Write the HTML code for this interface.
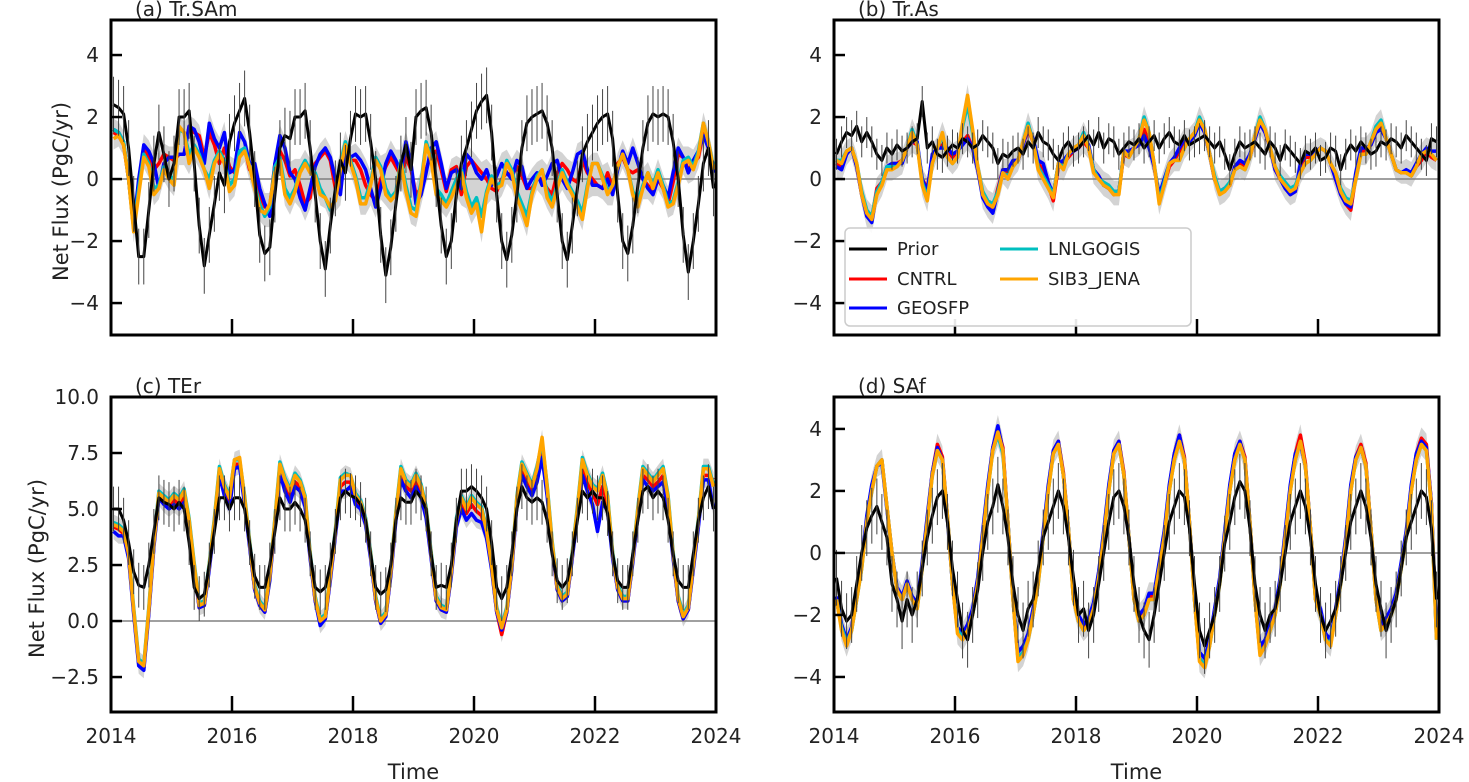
<!DOCTYPE html>
<html><head><meta charset="utf-8"><style>
html,body{margin:0;padding:0;background:#fff;}
svg{display:block;font-family:"DejaVu Sans","Liberation Sans",sans-serif;}
</style></head><body>
<svg id="fig" width="1469" height="782" viewBox="0 0 1469 782"></svg>
<script>
const aPrior=[2.4,2.3,2.1,1.0,-0.8,-2.5,-2.5,-1.0,0.5,1.5,0.8,0.0, 0.5,2.0,2.0,2.2,0.5,-1.5,-2.8,-1.8,-0.8,0.2,-0.2,1.2, 1.8,2.2,2.6,1.5,0.0,-1.8,-2.4,-2.2,-0.5,1.0,1.4,1.3, 2.0,2.0,2.2,1.0,-0.5,-2.0,-2.9,-1.5,-0.3,0.6,0.2,1.3, 2.1,2.0,2.1,1.2,0.0,-1.8,-3.1,-2.2,-0.8,0.5,1.1,0.3, 2.0,2.2,2.3,1.5,0.0,-1.5,-2.5,-2.0,-0.5,0.5,1.0,1.6, 2.2,2.5,2.7,1.5,-0.5,-2.0,-2.6,-1.8,-0.5,1.0,1.8,2.0, 2.1,2.2,1.8,1.0,-0.5,-2.0,-2.6,-1.5,-0.3,0.8,1.2,1.5, 1.8,2.0,2.1,1.3,-0.5,-2.0,-2.4,-1.5,-0.2,1.0,1.8,2.1, 2.0,2.1,2.0,1.2,0.0,-1.8,-3.0,-2.0,-0.8,0.5,1.0,-0.3];
const aCNTRL=[1.5,1.4,1.1,0.0,-1.6,-0.1,1.0,0.7,0.3,0.5,0.8,0.7, 0.6,0.8,0.8,1.7,1.5,1.4,0.7,1.5,1.1,0.5,1.0,0.4, 0.2,0.8,1.0,0.3,0.2,-0.5,-0.9,-0.9,0.5,0.9,0.6,0.1, 0.3,-0.2,-0.8,-0.6,0.5,0.7,0.9,0.6,-0.3,-0.1,0.7,0.6, 0.6,0.3,-0.2,-0.5,-0.7,0.0,0.4,0.7,0.4,0.1,0.7,0.3, -0.5,-0.3,0.3,0.8,0.9,0.3,-0.4,0.3,0.4,-0.5,0.4,0.6, 0.4,0.2,0.0,-0.3,-0.4,0.0,0.2,0.1,0.4,0.1,-0.3,-0.3, 0.0,0.0,-0.3,-0.5,0.2,0.5,0.3,0.0,-0.1,0.6,0.2,0.0, -0.2,-0.3,0.2,-0.3,0.5,0.7,0.3,0.2,0.3,0.0,-0.2,-0.4, 0.0,-0.3,-0.8,-0.1,0.8,0.7,0.3,0.5,0.7,1.5,1.0,0.3];
const aGEOSFP=[1.6,1.5,1.2,0.0,-1.5,0.0,1.1,0.9,0.5,-0.3,0.5,0.7, 0.7,0.8,0.8,1.7,1.6,1.2,0.5,1.8,1.3,1.0,1.5,0.2, 0.3,1.5,1.2,0.5,0.5,-0.3,-0.8,-1.2,0.5,1.4,1.0,0.2, 0.0,-0.6,-1.0,-0.3,0.4,0.8,1.0,0.7,0.0,-0.5,1.0,0.7, 0.8,0.6,0.3,-0.3,-0.9,-0.3,0.5,0.9,0.6,0.2,1.2,0.5, -0.8,-0.5,0.2,1.0,1.2,0.5,-0.3,0.2,0.3,-0.3,0.8,0.6, 0.2,0.0,0.3,-0.2,0.1,0.5,0.2,0.0,0.6,0.4,-0.3,0.0, 0.2,-0.2,0.1,0.5,0.6,0.0,-0.3,0.2,0.8,0.9,0.3,-0.2, -0.2,-0.3,0.0,-0.5,0.3,0.9,0.5,1.0,0.5,0.0,-0.3,-0.5, 0.0,-0.2,-0.6,0.2,1.0,0.7,0.2,0.6,0.9,1.4,1.0,0.2];
const aLNLGOGIS=[1.6,1.5,1.2,0.0,-1.6,-0.3,0.8,0.5,-0.3,-0.2,0.4,0.1, 0.0,1.6,1.5,0.8,1.1,0.8,0.3,0.0,0.6,0.9,0.6,-0.2, 0.0,0.9,1.0,0.4,-0.2,-0.8,-1.2,-0.9,0.4,0.7,-0.3,-0.6, -0.3,0.3,0.6,0.3,0.2,-0.3,-0.6,-1.0,-0.6,0.5,1.2,0.6, 0.1,-0.6,-0.6,-0.1,0.7,0.4,-0.3,-0.6,-0.4,0.6,-0.2,-0.9, -1.0,-0.1,1.2,0.7,-0.3,-0.5,-0.8,-0.4,0.0,0.3,-0.4,-0.9, -0.6,-1.2,-0.4,0.1,-0.2,-0.1,0.6,0.3,-0.4,-0.8,-1.2,-0.4, 0.1,0.3,-0.4,-0.7,-0.2,0.3,-0.1,-0.4,-0.7,-1.1,-0.2,0.5, 0.5,0.1,-0.4,-0.2,0.4,0.8,0.3,-0.4,-0.7,-0.2,0.2,-0.2, 0.3,-0.2,-0.8,-0.7,-0.1,0.6,0.7,0.4,0.9,1.8,1.2,0.4];
const aSIB3=[1.3,1.4,1.1,0.0,-1.7,-0.5,0.7,0.4,-0.5,-0.3,0.3,0.0, -0.2,1.7,1.5,0.5,1.0,0.7,0.3,-0.3,0.5,0.8,0.5,-0.4, -0.2,0.7,0.9,0.4,-0.3,-1.0,-1.1,-0.8,0.2,0.6,-0.5,-0.8, -0.4,0.2,0.5,0.2,0.1,-0.5,-0.6,-0.9,-0.7,0.3,1.1,0.5, 0.0,-0.8,-0.8,-0.2,0.6,0.3,-0.5,-0.7,-0.5,0.5,-0.4,-1.1, -1.2,-0.2,1.1,0.6,-0.5,-0.7,-0.9,-0.6,-0.2,0.2,-0.6,-1.1, -0.8,-1.7,-0.5,0.0,-0.3,-0.2,0.5,0.2,-0.6,-1.0,-1.5,-0.5, 0.0,0.3,-0.6,-0.9,-0.3,0.2,-0.2,-0.5,-0.9,-1.3,-0.3,0.5, 0.5,0.0,-0.5,-0.2,0.4,0.8,0.3,-0.5,-0.9,-0.3,0.2,-0.3, 0.2,-0.3,-0.9,-0.8,-0.2,0.5,0.6,0.3,0.8,1.8,1.2,0.3];

const bPrior=[0.8,1.2,1.5,1.4,1.7,1.2,1.5,1.2,0.8,0.6,1.0,0.8, 1.1,0.9,1.0,1.2,1.3,2.5,1.0,1.2,0.8,0.7,0.9,1.1, 1.0,1.3,1.2,1.0,1.1,1.4,1.2,1.0,0.5,0.8,0.7,0.9, 1.0,0.8,1.2,1.0,1.5,1.2,1.1,0.8,0.6,1.0,1.2,0.9, 1.0,1.2,1.4,1.1,1.5,1.0,1.3,1.2,0.8,1.0,1.2,1.1, 1.3,1.0,1.2,1.4,1.0,1.3,1.5,1.2,1.1,1.4,1.1,1.2, 1.3,1.4,1.2,1.0,1.2,0.8,0.3,0.8,1.2,1.0,1.1,1.2, 1.0,0.8,1.2,1.0,0.6,1.1,0.9,0.7,0.5,0.9,0.8,1.0, 0.6,0.7,1.0,0.9,0.3,0.8,1.1,0.9,1.2,1.0,0.8,0.9, 1.2,1.1,1.3,1.2,1.0,1.4,1.2,1.0,0.8,0.6,1.3,1.2];
const bCNTRL=[0.5,0.4,0.8,1.0,0.4,-0.5,-1.1,-1.3,-0.3,-0.1,0.3,0.5, 0.5,0.6,1.0,1.2,1.1,0.0,-0.3,0.7,1.0,1.1,0.9,0.7, 0.9,1.2,1.4,1.0,0.3,-0.5,-0.8,-1.0,-0.3,0.3,0.2,0.5, 0.6,1.1,1.6,1.2,0.5,0.3,-0.2,-0.7,0.4,0.5,0.7,0.9, 1.0,1.2,1.0,0.3,0.1,-0.2,-0.3,-0.5,-0.4,0.8,0.7,1.0, 1.1,1.6,1.2,0.4,-0.6,-0.2,0.4,0.6,0.9,1.2,1.2,1.4, 1.9,1.5,0.8,0.0,-0.4,-0.3,-0.2,0.4,0.5,0.4,0.7,1.3, 1.8,1.5,1.0,0.3,0.0,-0.3,-0.5,-0.4,0.4,0.7,0.7,0.8, 1.0,0.9,0.5,0.0,-0.5,-0.8,-1.0,0.1,0.9,0.9,1.1,1.5, 1.7,1.3,0.8,0.3,0.2,0.2,0.1,0.4,0.6,0.9,0.7,0.6];
const bGEOSFP=[0.4,0.3,0.8,1.0,0.4,-0.5,-1.2,-1.4,-0.4,-0.1,0.4,0.5, 0.5,0.5,1.0,1.2,1.2,0.0,-0.4,0.8,1.0,1.0,1.0,0.8, 0.9,1.1,1.3,1.0,0.3,-0.6,-0.9,-1.1,-0.4,0.3,0.3,0.6, 0.6,1.1,1.7,1.3,0.6,0.5,-0.1,-0.5,0.5,0.6,0.8,0.9, 1.0,1.3,1.1,0.3,0.1,-0.2,-0.3,-0.4,-0.4,0.9,0.9,1.0, 1.1,1.4,1.0,0.4,-0.5,0.0,0.5,0.7,1.0,1.3,1.2,1.4, 1.8,1.5,0.8,0.0,-0.4,-0.3,-0.2,0.4,0.6,0.5,0.8,1.3, 1.8,1.5,1.0,0.3,0.0,-0.3,-0.5,-0.4,0.5,0.8,0.8,0.9, 1.0,0.9,0.5,0.0,-0.5,-0.8,-0.9,0.2,1.0,1.0,1.1,1.5, 1.6,1.3,0.8,0.3,0.2,0.3,0.2,0.5,0.8,1.0,0.9,0.9];
const bLNLGOGIS=[0.6,0.6,0.9,1.0,0.5,-0.4,-1.0,-1.2,-0.4,-0.1,0.4,0.4, 0.4,0.6,1.0,1.6,1.1,-0.1,-0.6,0.5,1.0,1.4,0.7,0.5, 0.7,1.7,2.4,1.5,0.4,-0.4,-0.7,-0.8,-0.4,0.2,0.1,0.4, 0.6,1.2,1.8,1.2,0.4,0.1,-0.2,-0.5,0.5,0.4,0.8,1.0, 1.1,1.5,1.0,0.3,0.0,-0.1,-0.2,-0.4,-0.4,0.9,0.7,1.0, 1.3,2.0,1.5,0.5,-0.7,-0.1,0.5,0.6,0.6,1.0,1.3,1.5, 2.0,1.6,0.8,0.1,-0.4,-0.3,-0.1,0.3,0.4,0.3,0.7,1.4, 2.0,1.6,1.0,0.4,0.1,-0.1,-0.3,-0.2,0.2,0.5,0.6,0.8, 1.0,0.9,0.5,0.2,-0.3,-0.6,-0.7,0.0,0.8,0.8,1.2,1.7, 1.9,1.3,0.8,0.3,0.2,0.2,0.1,0.4,0.8,0.9,0.8,0.6];
const bSIB3=[0.6,0.5,0.9,1.0,0.5,-0.5,-1.1,-1.3,-0.5,-0.2,0.3,0.3, 0.4,0.6,1.0,1.5,1.1,-0.2,-0.7,0.5,1.0,1.5,0.7,0.5, 0.7,1.8,2.7,1.6,0.4,-0.5,-0.8,-0.9,-0.5,0.2,0.0,0.4, 0.6,1.2,1.7,1.2,0.3,0.0,-0.3,-0.6,0.5,0.3,0.8,1.0, 1.1,1.4,1.0,0.2,0.0,-0.2,-0.3,-0.5,-0.5,0.9,0.7,1.0, 1.3,1.9,1.5,0.5,-0.8,-0.2,0.5,0.6,0.6,1.0,1.3,1.5, 1.9,1.6,0.8,0.0,-0.5,-0.4,-0.2,0.3,0.4,0.3,0.7,1.4, 1.9,1.6,1.0,0.4,0.0,-0.2,-0.4,-0.3,0.2,0.5,0.6,0.8, 1.0,0.9,0.5,0.2,-0.4,-0.7,-0.8,0.0,0.8,0.8,1.2,1.6, 1.8,1.3,0.8,0.3,0.2,0.2,0.1,0.4,0.8,0.9,0.8,0.6];

const cPrior=[5.0,5.0,4.5,3.5,2.2,1.6,1.5,2.5,4.0,5.5,5.3,5.2, 5.0,5.3,5.0,3.5,1.5,1.0,1.2,2.5,4.0,5.5,5.5,5.0, 5.5,5.5,5.0,3.5,2.0,1.5,1.5,2.5,4.0,5.5,5.0,5.0, 5.3,5.0,4.5,3.0,1.5,1.3,1.5,2.5,4.0,5.5,5.8,5.6, 5.5,5.2,4.5,3.0,1.5,1.2,1.4,2.5,4.5,5.5,5.3,5.3, 5.8,5.5,5.0,3.0,1.5,1.6,1.5,2.5,4.5,5.8,5.8,6.0, 5.8,5.5,5.0,3.5,1.5,1.0,1.5,3.0,5.0,6.0,5.5,5.3, 5.5,5.3,4.5,3.0,1.8,1.5,1.8,3.0,4.5,5.8,5.5,5.8, 5.5,5.5,4.8,3.0,1.8,1.5,1.5,3.0,4.5,5.8,6.0,5.5, 5.8,5.5,4.5,3.0,1.8,1.5,1.5,3.0,4.5,5.5,6.0,5.0];
const cCNTRL=[4.2,4.1,3.9,2.9,0.4,-1.9,-2.1,0.4,3.4,5.6,5.4,5.2, 5.4,5.2,5.5,4.4,2.4,0.6,0.7,2.4,4.4,6.6,5.8,5.3, 7.0,7.0,5.3,3.4,1.4,0.7,0.4,1.9,4.4,6.7,6.0,5.5, 6.2,6.0,5.3,2.9,0.9,-0.1,0.1,1.9,3.9,6.0,6.2,6.2, 5.4,5.1,4.4,2.9,0.9,-0.1,0.2,2.1,4.6,6.5,6.0,5.8, 6.2,5.7,4.8,2.9,0.9,0.5,0.4,2.1,4.4,5.3,4.8,5.2, 4.9,4.7,3.8,2.4,0.4,-0.6,0.4,2.4,5.3,6.7,6.2,5.8, 6.5,7.7,5.8,3.4,1.4,0.9,1.1,2.9,4.8,6.8,6.2,5.7, 5.2,6.0,5.2,2.9,1.4,0.9,0.9,2.7,4.8,6.5,6.3,6.0, 6.2,6.5,5.3,2.9,0.9,0.1,0.5,2.4,4.3,6.5,6.5,6.3];
const cGEOSFP=[4.0,3.8,3.8,2.8,0.3,-2.0,-2.2,0.3,3.3,5.5,5.2,5.0, 5.2,5.0,5.3,4.3,2.3,0.6,0.7,2.3,4.3,6.5,5.6,5.0, 6.8,6.9,5.2,3.3,1.4,0.7,0.4,1.8,4.3,6.6,5.8,5.3, 6.0,5.8,5.1,2.8,0.9,-0.2,0.1,1.8,3.8,5.8,5.8,6.0, 5.2,5.0,4.3,2.8,0.9,-0.1,0.2,2.0,4.5,6.3,5.8,5.5, 6.0,5.5,4.6,2.8,0.9,0.5,0.4,2.0,4.2,5.0,4.5,4.8, 4.5,4.4,3.7,2.3,0.4,-0.4,0.4,2.3,5.2,6.5,6.0,5.6, 6.2,7.3,5.6,3.3,1.4,0.9,1.1,2.8,4.7,6.5,5.8,5.2, 4.0,5.3,4.9,2.8,1.4,0.9,0.9,2.6,4.7,6.3,6.0,5.8, 6.0,6.2,5.0,2.8,0.9,0.1,0.5,2.3,4.2,6.3,6.3,5.0];
const cLNLGOGIS=[4.4,4.3,4.1,3.1,0.6,-1.7,-1.9,0.6,3.6,5.8,5.6,5.4, 5.7,5.5,5.9,4.6,2.6,0.8,0.9,2.6,4.6,6.9,6.1,5.6, 7.2,7.2,5.6,3.6,1.6,0.9,0.6,2.1,4.6,7.1,6.4,5.9, 6.6,6.3,5.6,3.1,1.1,0.1,0.3,2.1,4.1,6.4,6.6,6.5, 5.7,5.4,4.6,3.1,1.1,0.1,0.4,2.3,4.9,6.9,6.3,6.1, 6.6,6.1,5.1,3.1,1.1,0.7,0.6,2.3,4.6,5.6,5.1,5.6, 5.3,5.1,4.1,2.6,0.6,-0.2,0.6,2.6,5.6,7.1,6.6,6.1, 6.9,8.0,6.1,3.6,1.6,1.1,1.3,3.1,5.1,7.3,6.6,6.1, 5.9,6.6,5.6,3.1,1.6,1.1,1.1,2.9,5.1,6.9,6.6,6.3, 6.6,6.9,5.6,3.1,1.1,0.3,0.7,2.6,4.6,6.9,6.9,6.1];
const cSIB3=[4.3,4.2,4.0,3.0,0.5,-1.8,-2.0,0.5,3.5,5.7,5.5,5.3, 5.6,5.4,5.8,4.5,2.5,0.7,0.8,2.5,4.5,6.8,6.0,5.5, 7.2,7.3,5.5,3.5,1.5,0.8,0.5,2.0,4.5,7.0,6.3,5.8, 6.5,6.2,5.5,3.0,1.0,0.0,0.2,2.0,4.0,6.3,6.5,6.5, 5.6,5.3,4.5,3.0,1.0,0.0,0.3,2.2,4.8,6.8,6.2,6.0, 6.5,6.0,5.0,3.0,1.0,0.6,0.5,2.2,4.5,5.5,5.0,5.5, 5.2,5.0,4.0,2.5,0.5,-0.3,0.5,2.5,5.5,7.0,6.5,6.0, 6.8,8.2,6.0,3.5,1.5,1.0,1.2,3.0,5.0,7.2,6.5,6.0, 5.8,6.5,5.5,3.0,1.5,1.0,1.0,2.8,5.0,6.8,6.5,6.2, 6.5,6.8,5.5,3.0,1.0,0.2,0.6,2.5,4.5,6.8,6.8,6.0];

const dPrior=[-0.8,-1.8,-2.2,-2.0,-1.0,0.0,0.8,1.2,1.5,1.0,0.5,-1.0, -1.5,-2.2,-1.5,-2.0,-1.5,-0.5,0.5,1.2,1.8,2.0,1.0,-0.5, -1.5,-2.5,-2.8,-2.0,-1.2,0.0,1.0,1.5,2.2,1.5,0.5,-1.0, -2.0,-2.5,-1.8,-1.5,-0.5,0.5,1.0,1.5,2.0,1.5,0.5,-0.8, -2.0,-1.8,-2.5,-2.0,-1.0,0.0,1.0,1.8,2.0,1.5,0.5,-1.0, -2.0,-2.5,-2.8,-2.0,-1.0,0.0,1.0,1.5,2.0,1.8,0.8,-1.0, -2.5,-3.0,-2.5,-2.0,-1.0,0.3,1.0,1.8,2.3,2.0,0.8,-1.0, -2.0,-2.5,-2.0,-1.8,-1.0,0.0,1.0,1.5,2.0,1.5,0.5,-1.0, -2.0,-2.5,-2.2,-1.8,-1.0,0.0,1.0,1.5,2.0,1.5,0.5,-1.0, -1.8,-2.5,-2.0,-1.5,-0.5,0.5,1.0,1.5,2.0,1.8,0.8,-1.5];
const dCNTRL=[-1.5,-2.4,-2.9,-2.4,-1.4,-0.4,1.1,2.1,2.8,3.0,1.5,0.0, -1.2,-1.5,-1.0,-1.5,-1.7,-0.4,1.1,2.6,3.5,3.1,1.2,-1.0, -2.5,-2.7,-2.4,-1.9,-0.9,0.6,2.1,3.4,4.0,3.4,1.0,-1.5, -3.4,-3.2,-2.7,-1.9,-0.9,0.6,2.1,3.3,3.6,2.6,0.8,-1.5, -2.1,-2.4,-2.2,-1.7,-0.7,0.6,2.1,3.3,3.6,2.6,0.5,-1.5, -2.1,-1.9,-1.4,-1.4,-0.4,0.6,2.1,3.2,3.8,3.1,1.0,-1.5, -3.4,-3.6,-2.9,-1.9,-0.9,0.6,2.1,3.2,3.6,3.1,1.0,-1.5, -3.2,-2.9,-2.4,-1.9,-0.9,0.6,2.1,3.2,3.8,2.9,0.8,-1.5, -1.9,-2.7,-2.9,-1.9,-0.9,0.4,2.1,3.1,3.5,2.9,0.8,-1.5, -2.4,-2.2,-1.9,-1.4,-0.4,0.6,2.1,3.2,3.7,3.5,1.6,-2.7];
const dGEOSFP=[-1.4,-2.3,-2.8,-2.4,-1.4,-0.3,1.2,2.2,2.8,2.9,1.4,0.0, -1.1,-1.4,-0.9,-1.4,-1.6,-0.3,1.2,2.6,3.4,3.0,1.1,-1.0, -2.4,-2.6,-2.3,-1.8,-0.8,0.7,2.2,3.4,4.1,3.3,1.0,-1.4, -3.2,-3.0,-2.6,-1.8,-0.8,0.7,2.2,3.3,3.6,2.5,0.8,-1.4, -2.0,-2.3,-2.1,-1.6,-0.6,0.7,2.2,3.3,3.6,2.5,0.5,-1.4, -2.0,-1.8,-1.3,-1.3,-0.3,0.7,2.2,3.2,3.8,3.0,1.0,-1.4, -3.2,-3.4,-2.8,-1.8,-0.8,0.7,2.2,3.2,3.6,3.0,1.0,-1.4, -3.0,-2.8,-2.3,-1.8,-0.8,0.7,2.2,3.2,3.5,2.8,0.8,-1.4, -1.8,-2.6,-2.8,-1.8,-0.8,0.5,2.2,3.1,3.4,2.8,0.8,-1.4, -2.3,-2.1,-1.8,-1.3,-0.3,0.7,2.2,3.2,3.6,3.4,1.6,-2.6];
const dLNLGOGIS=[-1.5,-2.4,-2.9,-2.5,-1.5,-0.5,1.0,2.0,2.8,3.0,1.5,0.0, -1.2,-1.5,-1.0,-1.5,-1.8,-0.5,1.0,2.5,3.3,3.0,1.2,-1.0, -2.5,-2.7,-2.5,-2.0,-1.0,0.5,2.0,3.3,3.8,3.2,1.0,-1.5, -3.4,-3.2,-2.8,-2.0,-1.0,0.5,2.0,3.2,3.5,2.5,0.8,-1.5, -2.2,-2.5,-2.3,-1.8,-0.8,0.5,2.0,3.2,3.5,2.5,0.5,-1.5, -2.2,-2.0,-1.5,-1.5,-0.5,0.5,2.0,3.0,3.6,3.0,1.0,-1.5, -3.4,-3.6,-3.0,-2.0,-1.0,0.5,2.0,3.0,3.5,3.0,1.0,-1.5, -3.2,-3.0,-2.5,-2.0,-1.0,0.5,2.0,3.0,3.6,2.8,0.8,-1.5, -2.0,-2.8,-2.9,-2.0,-1.0,0.3,2.0,3.0,3.4,2.8,0.8,-1.5, -2.5,-2.3,-2.0,-1.5,-0.5,0.5,2.0,3.0,3.5,3.3,1.5,-2.8];
const dSIB3=[-1.5,-2.5,-3.0,-2.5,-1.5,-0.5,1.0,2.0,2.8,3.0,1.5,0.0, -1.2,-1.5,-1.0,-1.5,-1.8,-0.5,1.0,2.5,3.3,3.0,1.2,-1.0, -2.6,-2.8,-2.5,-2.0,-1.0,0.5,2.0,3.3,3.9,3.3,1.0,-1.5, -3.5,-3.3,-2.8,-2.0,-1.0,0.5,2.0,3.2,3.5,2.5,0.8,-1.5, -2.2,-2.5,-2.3,-1.8,-0.8,0.5,2.0,3.2,3.5,2.5,0.5,-1.5, -2.2,-2.0,-1.5,-1.5,-0.5,0.5,2.0,3.0,3.6,3.0,1.0,-1.5, -3.5,-3.7,-3.0,-2.0,-1.0,0.5,2.0,3.0,3.5,3.0,1.0,-1.5, -3.3,-3.0,-2.5,-2.0,-1.0,0.5,2.0,3.0,3.6,2.8,0.8,-1.5, -2.0,-2.8,-3.0,-2.0,-1.0,0.3,2.0,3.0,3.4,2.8,0.8,-1.5, -2.5,-2.3,-2.0,-1.5,-0.5,0.5,2.0,3.0,3.5,3.3,1.5,-2.8];

const xTicks=[2016,2018,2020,2022];
const xTickLabels=["2014","2016","2018","2020","2022","2024"];
const yTicksAB=[-4,-2,0,2,4];
const yTicksC=[-2.5,0,2.5,5,7.5,10];
const yTicksD=[-4,-2,0,2,4];
const seriesNames=["Prior","CNTRL","GEOSFP","LNLGOGIS","SIB3_JENA"];

const NS="http://www.w3.org/2000/svg";
const svg=document.getElementById('fig');
function mk(tag,attrs,parent){const e=document.createElementNS(NS,tag);for(const k in attrs)e.setAttribute(k,attrs[k]);(parent||svg).appendChild(e);return e;}

const panels=[
 {id:'a',title:'(a) Tr.SAm',x0:111,x1:716,y0:20,y1:335,ymin:-5.03,ymax:5.13,ticks:yTicksAB,fmt:v=>String(v),prior:aPrior,ser:[aCNTRL,aGEOSFP,aLNLGOGIS,aSIB3],err:0.9,xl:false,yl:true,ylx:34},
 {id:'b',title:'(b) Tr.As',x0:834,x1:1439,y0:20,y1:335,ymin:-5.03,ymax:5.13,ticks:yTicksAB,fmt:v=>String(v),prior:bPrior,ser:[bCNTRL,bGEOSFP,bLNLGOGIS,bSIB3],err:0.5,xl:false,yl:false},
 {id:'c',title:'(c) TEr',x0:111,x1:716,y0:397,y1:712,ymin:-4.06,ymax:10,ticks:yTicksC,fmt:v=>v.toFixed(1),prior:cPrior,ser:[cCNTRL,cGEOSFP,cLNLGOGIS,cSIB3],err:1.0,xl:true,yl:true,ylx:10},
 {id:'d',title:'(d) SAf',x0:834,x1:1439,y0:397,y1:712,ymin:-5.13,ymax:5.03,ticks:yTicksD,fmt:v=>String(v),prior:dPrior,ser:[dCNTRL,dGEOSFP,dLNLGOGIS,dSIB3],err:0.9,xl:true,yl:false}
];
const colors=['#ff0000','#0000ff','#00bfbf','#ffa500'];
const sKeys=['cntrl','geosfp','lnlgogis','sib3-jena'];

panels.forEach(p=>{
 const g=mk('g',{});
 
 
 const X=t=>p.x0+(t-2014)/10*(p.x1-p.x0);
 const Y=v=>p.y1-(v-p.ymin)/(p.ymax-p.ymin)*(p.y1-p.y0);
 const T=i=>2014+(i+0.5)/12;
 const clipId='clip'+p.id;
 const cp=mk('clipPath',{id:clipId},g);mk('rect',{x:p.x0,y:p.y0,width:p.x1-p.x0,height:p.y1-p.y0},cp);
 const plot=mk('g',{'clip-path':'url(#'+clipId+')'},g);
 
 
 const n=p.prior.length;let up=[],lo=[];
 for(let i=0;i<n;i++){const vals=p.ser.map(s=>s[i]);up.push(X(T(i)).toFixed(1)+','+Y(Math.max(...vals)+0.35).toFixed(1));lo.unshift(X(T(i)).toFixed(1)+','+Y(Math.min(...vals)-0.35).toFixed(1));}
 const band=mk('polygon',{points:up.concat(lo).join(' '),fill:'#d3d3d3',stroke:'none'},plot);
 
 
 const z=mk('line',{x1:p.x0,x2:p.x1,y1:Y(0),y2:Y(0),stroke:'#808080','stroke-width':1.5},plot);
 
 
 p.ser.forEach((s,k)=>{
  const pts=s.map((v,i)=>X(T(i)).toFixed(1)+','+Y(v).toFixed(1)).join(' ');
  const l=mk('polyline',{points:pts,fill:'none',stroke:colors[k],'stroke-width':3.5,'stroke-linejoin':'round'},plot);
  
  
 });
 const pp=p.prior.map((v,i)=>X(T(i)).toFixed(1)+','+Y(v).toFixed(1)).join(' ');
 const pl=mk('polyline',{points:pp,fill:'none',stroke:'#000','stroke-width':3,'stroke-linejoin':'round'},plot);
 
 
 const eg=mk('g',{stroke:'#444','stroke-width':1},plot);
 
 
 p.prior.forEach((v,i)=>{mk('line',{x1:X(T(i)),x2:X(T(i)),y1:Y(v-p.err),y2:Y(v+p.err)},eg);});
 const fr=mk('rect',{x:p.x0,y:p.y0,width:p.x1-p.x0,height:p.y1-p.y0,fill:'none',stroke:'#000','stroke-width':3},g);
 
 
 p.ticks.forEach(v=>{
  const y=Y(v);
  mk('line',{x1:p.x0,x2:p.x0+11,y1:y,y2:y,stroke:'#000','stroke-width':2.5},g);
  const t=mk('text',{x:p.x0-12,y:y+7,'text-anchor':'end','font-size':20,fill:'#222'},g);
  t.textContent=p.fmt(v).replace('-','\u2212');
  
  
 });
 xTicks.forEach(v=>{mk('line',{x1:X(v),x2:X(v),y1:p.y1,y2:p.y1-16,stroke:'#000','stroke-width':2.5},g);});
 if(p.xl){xTickLabels.forEach(s=>{const t=mk('text',{x:X(+s),y:p.y1+31,'text-anchor':'middle','font-size':20,fill:'#222'},g);t.textContent=s;
  
  });
  const xt=mk('text',{x:(p.x0+p.x1)/2,y:779,'text-anchor':'middle','font-size':21,fill:'#222'},g);xt.textContent='Time';
  
  }
 if(p.yl){const cy=(p.y0+p.y1)/2;const t=mk('text',{x:p.ylx,y:cy,'text-anchor':'middle','font-size':21,fill:'#222',transform:'rotate(-90 '+(p.ylx+14)+' '+cy+')',dy:20},g);t.textContent='Net Flux (PgC/yr)';
  
  }
 const tt=mk('text',{x:p.x0+24,y:p.y0-4,'font-size':20,fill:'#222'},g);tt.textContent=p.title;
 
 
});

const lg=mk('g',{});


mk('rect',{x:845,y:228,width:346,height:98,rx:5,fill:'#fff','fill-opacity':0.9,stroke:'#ccc','stroke-width':1.5},lg);
const legPos=[[849,249],[849,279],[849,308],[1000,249],[1000,279]];
const legCol=['#000','#ff0000','#0000ff','#00bfbf','#ffa500'];
seriesNames.forEach((nm,i)=>{
 const [lx,ly]=legPos[i];
 const e=mk('g',{},lg);
 
 
 mk('line',{x1:lx,x2:lx+38,y1:ly,y2:ly,stroke:legCol[i],'stroke-width':3},e);
 const t=mk('text',{x:lx+48,y:ly+6,'font-size':18,fill:'#222'},e);t.textContent=nm;
});
</script>
</body></html>
